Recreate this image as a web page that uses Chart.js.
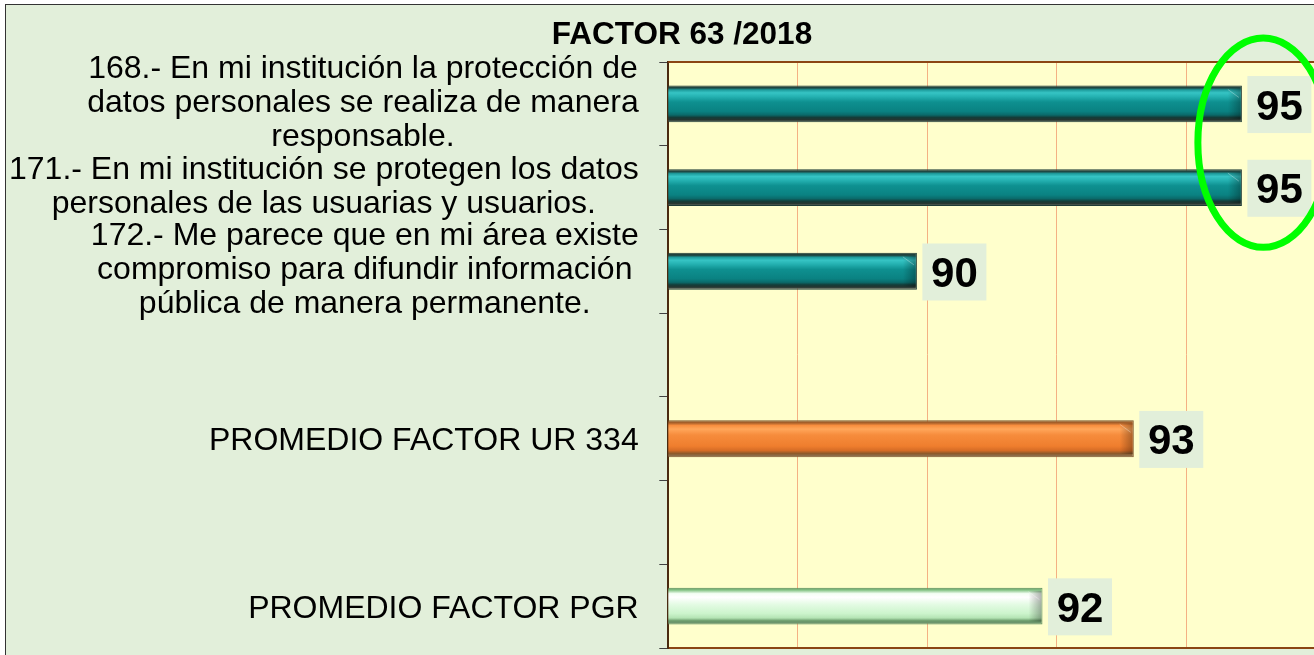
<!DOCTYPE html>
<html>
<head>
<meta charset="utf-8">
<script src="https://cdn.jsdelivr.net/npm/chart.js@4.4.1/dist/chart.umd.min.js"></script>
<style>
  html, body { margin:0; padding:0; background:#ffffff; overflow:hidden; }
  #frame { position:absolute; left:5px; top:4px; width:1400px; height:700px;
           border-left:1px solid #333; border-top:1px solid #333; background:#E2EFDA; }
  #wrap { position:absolute; left:0; top:0; width:1352px; height:650px; }
</style>
</head>
<body>
<div id="frame"><div id="wrap"><canvas id="c"></canvas></div></div>
<script>
// ---------- data ----------
const titleText = 'FACTOR 63 /2018';
const categories = [
  ['168.- En mi institución la protección de', 'datos personales se realiza de manera', 'responsable.'],
  ['171.- En mi institución se protegen los datos', 'personales de las usuarias y usuarios.'],
  ['172.- Me parece que en mi área existe', 'compromiso para difundir información', 'pública de manera permanente.'],
  '',
  'PROMEDIO FACTOR UR 334',
  '',
  'PROMEDIO FACTOR PGR'
];
const values = [94.86, 94.86, 89.84, null, 93.19, null, 91.78];
const valueLabels = ['95', '95', '90', '', '93', '', '92'];
const barKinds = ['item', 'item', 'item', null, 'ur', null, 'pgr'];
const xMin = 86, xMax = 96, xStep = 2;
const highlightCenterValue = 95.19;   // ellipse around the two 95 labels
const highlightCats = [0, 1];

// ---------- styles ----------
const palettes = {
  item: [[0,'#22352F'],[0.07,'#1E4A45'],[0.12,'#1E9C9C'],[0.20,'#36C4C4'],[0.30,'#25B2B2'],
         [0.45,'#0E9090'],[0.70,'#0A8282'],[0.80,'#0A6A6A'],[0.87,'#143C38'],[0.93,'#253530'],[1,'#6A7468']],
  ur:   [[0,'#7F5226'],[0.07,'#A9602A'],[0.14,'#F88E3E'],[0.24,'#FFA65A'],[0.40,'#F68C3C'],
         [0.70,'#EF7E2E'],[0.82,'#D66C26'],[0.90,'#8F5A2A'],[1,'#8A7A60']],
  pgr:  [[0,'#5A925A'],[0.07,'#8CC88C'],[0.16,'#F4FFF4'],[0.26,'#FFFFFF'],[0.45,'#E4FBE4'],
         [0.70,'#CCF4CC'],[0.82,'#B4E4B4'],[0.90,'#6A9A6A'],[1,'#6F8F6F']]
};
const borderCols = { item:'#1E3B36', ur:'#7F5226', pgr:'#5A8F5A' };
const FONT = "'Liberation Sans', Arial, sans-serif";
const BAR_PCT = 0.44;

function barBg(context) {
  const chart = context.chart;
  const kind = barKinds[context.dataIndex];
  const ys = chart.scales.y;
  if (!kind) return 'transparent';
  if (!ys || !chart.chartArea) return palettes[kind][5][1];
  const c = ys.getPixelForValue(context.dataIndex);
  const catH = Math.abs(ys.getPixelForValue(1) - ys.getPixelForValue(0));
  const h = catH * BAR_PCT;
  const g = chart.ctx.createLinearGradient(0, c - h/2, 0, c + h/2);
  palettes[kind].forEach(s => g.addColorStop(s[0], s[1]));
  return g;
}

const decorPlugin = {
  id: 'decor',
  beforeDraw(chart) {
    const {ctx, chartArea:a} = chart;
    ctx.save();
    ctx.fillStyle = '#FFFFCC';
    ctx.fillRect(a.left, a.top, a.right - a.left, a.bottom - a.top);
    ctx.restore();
  },
  afterDatasetsDraw(chart) {
    const {ctx, chartArea:a} = chart;
    const xs = chart.scales.x, ys = chart.scales.y;
    const meta = chart.getDatasetMeta(0);
    ctx.save();
    // bevel ends
    meta.data.forEach((el, i) => {
      if (values[i] == null) return;
      const top = el.y - el.height/2, bot = el.y + el.height/2;
      const right = el.x, left = el.base;
      let g = ctx.createLinearGradient(right - 14, 0, right - 1, 0);
      g.addColorStop(0, 'rgba(0,0,0,0)');
      g.addColorStop(1, 'rgba(0,0,0,0.30)');
      ctx.fillStyle = g;
      ctx.beginPath();
      ctx.moveTo(right - 14, top + 3);
      ctx.lineTo(right - 1, top + 3);
      ctx.lineTo(right - 1, bot - 3);
      ctx.lineTo(right - 14, bot - 3);
      ctx.closePath();
      ctx.fill();
      ctx.strokeStyle = 'rgba(255,255,255,0.3)';
      ctx.lineWidth = 1;
      ctx.beginPath();
      ctx.moveTo(right - 14, top + 4);
      ctx.lineTo(right - 3, top + 12);
      ctx.stroke();
      g = ctx.createLinearGradient(left + 1, 0, left + 12, 0);
      g.addColorStop(0, 'rgba(0,0,0,0.25)');
      g.addColorStop(1, 'rgba(0,0,0,0)');
      ctx.fillStyle = g;
      ctx.fillRect(left + 1, top + 3, 11, bot - top - 6);
    });
    // top/right border of plot area
    ctx.strokeStyle = '#8B4513';
    ctx.lineWidth = 2;
    ctx.beginPath();
    ctx.moveTo(a.left, a.top); ctx.lineTo(a.right, a.top);
    ctx.moveTo(a.right, a.top); ctx.lineTo(a.right, a.bottom);
    ctx.stroke();
    // value labels
    ctx.font = 'bold 42px ' + FONT;
    ctx.textAlign = 'center';
    ctx.textBaseline = 'alphabetic';
    meta.data.forEach((el, i) => {
      if (values[i] == null) return;
      const bx = el.x + 5.5, bw = 64, bh = 57;
      const cy = el.y + 0.7;
      ctx.fillStyle = '#E2EFDA';
      ctx.fillRect(bx, cy - bh/2, bw, bh);
      ctx.fillStyle = '#000000';
      ctx.fillText(valueLabels[i], bx + bw/2, cy + 15);
    });
    // category labels: block right-aligned to axis, lines centred within block
    ctx.font = '32px ' + FONT;
    ctx.fillStyle = '#000000';
    const rightEdge = a.left - 29.6;
    const lh = 34;
    chart.data.labels.forEach((lab, i) => {
      const lines = Array.isArray(lab) ? lab : [lab];
      if (!lines.join('')) return;
      const widest = Math.max(...lines.map(l => ctx.measureText(l).width));
      const cx = rightEdge - widest/2;
      const cy = ys.getPixelForValue(i);
      const n = lines.length;
      lines.forEach((l, k) => {
        const base = cy + 11.5 + (k - (n - 1)/2) * lh - (n > 1 ? 3.5 : 0);
        ctx.fillText(l, cx, base);
      });
    });
    // highlight ellipse
    const ppu = Math.abs(xs.getPixelForValue(1) - xs.getPixelForValue(0));
    const catH = Math.abs(ys.getPixelForValue(1) - ys.getPixelForValue(0));
    const ecx = xs.getPixelForValue(highlightCenterValue);
    const ecy = (ys.getPixelForValue(highlightCats[0]) + ys.getPixelForValue(highlightCats[1]))/2 - 3;
    ctx.strokeStyle = '#00FF00';
    ctx.lineWidth = 7;
    ctx.beginPath();
    ctx.ellipse(ecx, ecy, ppu * 1.01, catH * 1.25, 0, 0, Math.PI * 2);
    ctx.stroke();
    ctx.restore();
  }
};

new Chart(document.getElementById('c'), {
  type: 'bar',
  data: {
    labels: categories,
    datasets: [{
      data: values,
      backgroundColor: barBg,
      borderColor: (c) => borderCols[barKinds[c.dataIndex]] || 'transparent',
      borderWidth: 1,
      borderSkipped: false,
      barPercentage: BAR_PCT,
      categoryPercentage: 1.0
    }]
  },
  options: {
    indexAxis: 'y',
    responsive: true,
    maintainAspectRatio: false,
    animation: false,
    devicePixelRatio: 1,
    layout: { padding: { left: 42.3, right: 42.3, top: 0, bottom: 7 } },
    plugins: {
      legend: { display: false },
      tooltip: { enabled: false },
      title: {
        display: true,
        text: titleText,
        color: '#000000',
        font: { family: FONT, size: 31.5, weight: 'bold', lineHeight: 1.2 },
        padding: { top: 11, bottom: 8.2 }
      }
    },
    scales: {
      x: {
        type: 'linear',
        min: xMin, max: xMax,
        ticks: { display: false, stepSize: xStep },
        grid: { color: '#F4B183', lineWidth: 1, drawTicks: false },
        border: { display: true, color: '#8B4513', width: 2 },
        afterFit: s => { s.height = 0; }
      },
      y: {
        type: 'category',
        ticks: { display: false },
        grid: { drawOnChartArea: false, drawTicks: true, tickLength: 9, color: '#404040', lineWidth: 1 },
        border: { display: true, color: '#4A2A10', width: 2 },
        afterFit: s => { s.width = 620; }
      }
    }
  },
  plugins: [decorPlugin]
});
</script>
</body>
</html>
